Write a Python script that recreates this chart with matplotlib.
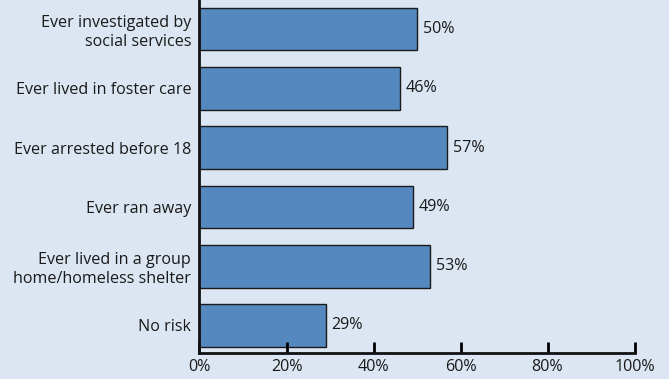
import matplotlib.pyplot as plt
from matplotlib.ticker import FuncFormatter

# risk categories, top to bottom
categorias = ['Ever investigated by\nsocial services', 'Ever lived in foster care',
              'Ever arrested before 18', 'Ever ran away',
              'Ever lived in a group\nhome/homeless shelter', 'No risk']
valores = [50, 46, 57, 49, 53, 29]
xticks = [0, 20, 40, 60, 80, 100]

fundo = '#dce6f3'
cor_barra = '#5688c0'
tam = 11.6

plt.rcParams['font.family'] = ['Open Sans', 'DejaVu Sans']

fig = plt.figure(figsize=(6.69, 3.79), dpi=100, facecolor=fundo)
ax = fig.add_axes([199.5/669, 26/379, 435/669, 353/379])
ax.set_facecolor(fundo)

pos = list(range(len(categorias)))
ax.barh(pos, valores, height=0.72, color=cor_barra, edgecolor='#1a1a1a', linewidth=1)
for p, v in zip(pos, valores):
    ax.text(v + 1.3, p, '{v}%'.format(v=v), va='center', ha='left', fontsize=tam, color='#1a1a1a')

ax.set_ylim(5.464, -0.49)
ax.set_xlim(0, 100)
ax.set_yticks(pos)
ax.set_yticklabels(categorias, fontsize=tam, color='#1a1a1a', ha='right', linespacing=1.25)
ax.set_xticks(xticks)
ax.xaxis.set_major_formatter(FuncFormatter(lambda x, _: '{:.0f}%'.format(x)))
ax.tick_params(axis='x', direction='in', length=8, width=2, labelsize=tam, pad=4, labelcolor='#1a1a1a')
ax.tick_params(axis='y', length=0, pad=6)
for lado in ['top', 'right']:
    ax.spines[lado].set_visible(False)
for lado in ['left', 'bottom']:
    ax.spines[lado].set_linewidth(2)
    ax.spines[lado].set_color('#111111')

fig.savefig('out.png', dpi=100, facecolor=fundo)
